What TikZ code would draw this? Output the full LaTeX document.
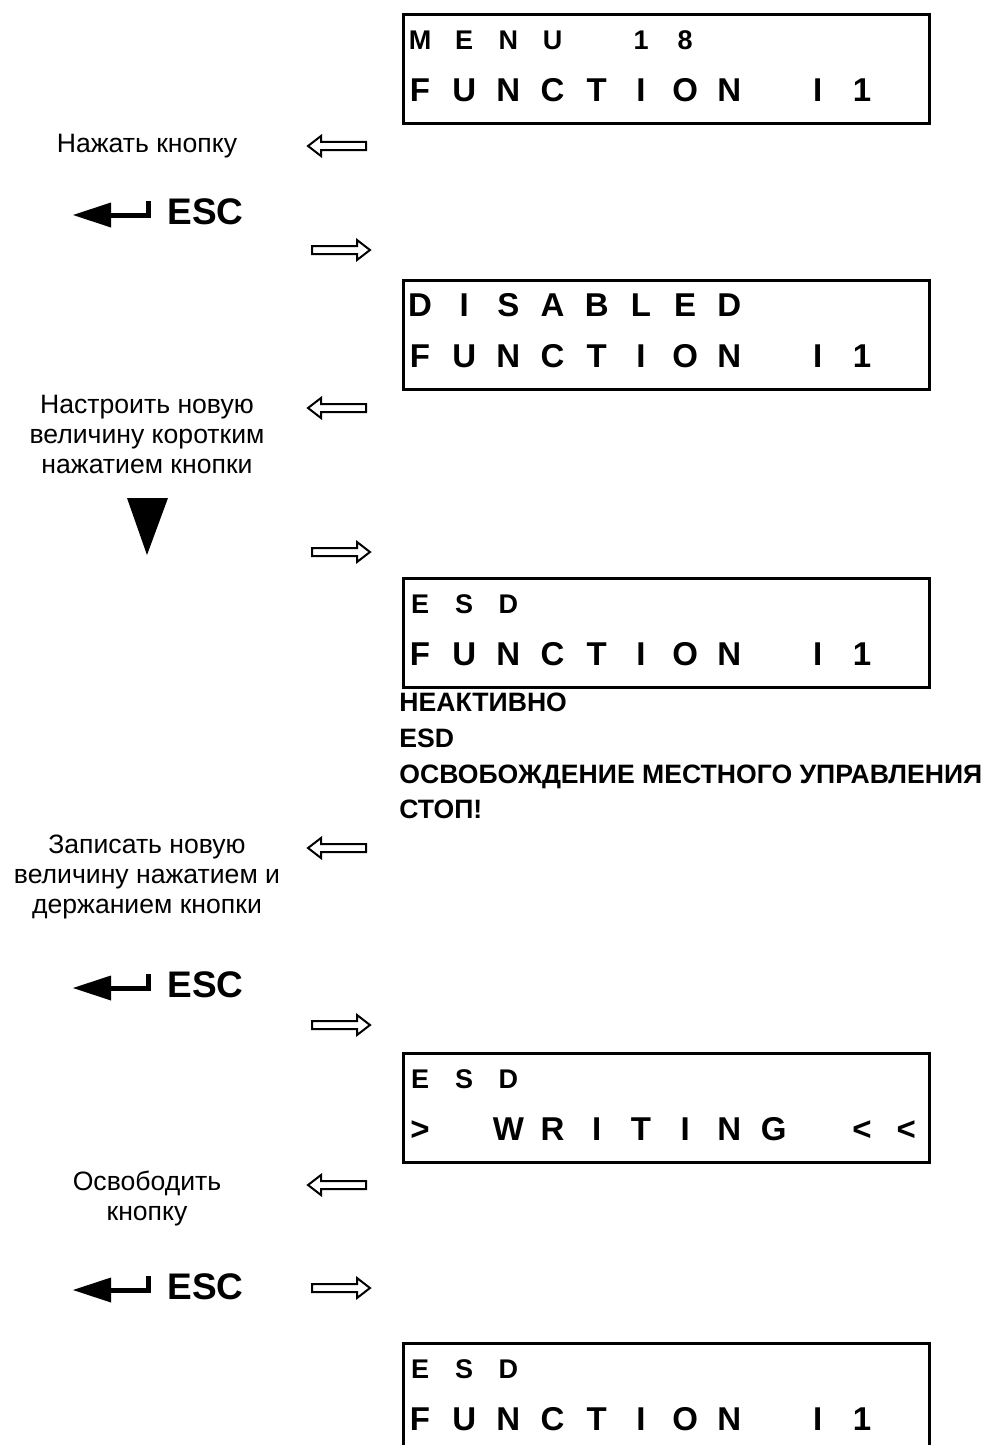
\documentclass[tikz,border=0pt]{standalone}
\usepackage{fontspec}
\setmainfont{Liberation Sans}
\usepackage{tikz}
\usetikzlibrary{
  arrows.meta,
  positioning
}

\tikzset{
  lcdbox/.style={rectangle,draw=black,line width=1.5pt,anchor=north west,
    minimum width=263pt,minimum height=54.5pt,inner sep=0pt},
  bigchar/.style={font=\bfseries\fontsize{16.5}{20}\selectfont,inner sep=0pt,anchor=base},
  smallchar/.style={font=\bfseries\fontsize{13.5}{15}\selectfont,inner sep=0pt,anchor=base},
  steptext/.style={font=\fontsize{13.3}{15}\selectfont,align=center,inner sep=0pt,anchor=base},
  notetext/.style={font=\bfseries\fontsize{13.3}{15}\selectfont,inner sep=0pt,anchor=base west},
  esctext/.style={font=\bfseries\fontsize{18.5}{22}\selectfont,inner sep=0pt,anchor=west},
  hollowleft/.pic={
    \draw[line width=1pt,line join=miter] (0,0) -- (13,-10) -- (13,-4) -- (58,-4)
      -- (58,4) -- (13,4) -- (13,10) -- cycle;},
  hollowright/.pic={
    \draw[line width=1pt,line join=miter] (0,-4) -- (45,-4) -- (45,-10) -- (58,0)
      -- (45,10) -- (45,4) -- (0,4) -- cycle;},
  enterkey/.pic={
    \fill (-94,3) -- (-56,-9.5) -- (-56,15.5) -- cycle;
    \draw[line width=2.5pt,line join=miter] (-57,3) -- (-18.5,3) -- (-18.5,-11);}
}

% one row of the display, one character per cell
\newcommand\lcdrow[4]{%
  \foreach \ch [count=\i from 0] in {#4}
    \node[#3] (#1-\i) at ({420+44.2*\i},#2) {\ch};}

\begin{document}
\begin{tikzpicture}[x=0.5pt,y=-0.5pt]
  \clip (0,0) rectangle (991,1445);

  % menu 18
  \node[lcdbox] (menu) at (401.5,13.5) {};
  \lcdrow{menuA}{50}{smallchar}{M,E,N,U,{},1,8}
  \lcdrow{menuB}{102}{bigchar}{F,U,N,C,T,I,O,N,{},I,1}
  \node[steptext] (press) at (147,152) {Нажать кнопку};
  \pic at (308,146) {hollowleft};
  \node[esctext] (esc1) at (167,212) {ESC};
  \pic at (esc1.west) {enterkey};
  \pic at (312,250) {hollowright};

  % disabled
  \node[lcdbox] (disabled) at (401.5,278.5) {};
  \lcdrow{disA}{316}{bigchar}{D,I,S,A,B,L,E,D}
  \lcdrow{disB}{367}{bigchar}{F,U,N,C,T,I,O,N,{},I,1}
  \node[steptext] (adjust) at (147,473) {Настроить новую\\величину коротким\\нажатием кнопки};
  \pic at (308,408) {hollowleft};
  \fill (127,498) -- (168,498) -- (147,555) -- cycle;
  \pic at (312,552) {hollowright};

  % esd
  \node[lcdbox] (esd) at (401.5,576.5) {};
  \lcdrow{esdA}{613}{smallchar}{E,S,D}
  \lcdrow{esdB}{665}{bigchar}{F,U,N,C,T,I,O,N,{},I,1}
  \node[notetext] (opt1) at (399,711) {НЕАКТИВНО};
  \node[notetext] (opt2) at (399,747) {ESD};
  \node[notetext] (opt3) at (399,783) {ОСВОБОЖДЕНИЕ МЕСТНОГО УПРАВЛЕНИЯ};
  \node[notetext] (opt4) at (399,818) {СТОП!};
  \node[steptext] (store) at (147,913) {Записать новую\\величину нажатием и\\держанием кнопки};
  \pic at (308,848) {hollowleft};
  \node[esctext] (esc2) at (167,985) {ESC};
  \pic at (esc2.west) {enterkey};
  \pic at (312,1025) {hollowright};

  % writing
  \node[lcdbox] (writing) at (401.5,1051.5) {};
  \lcdrow{wrA}{1088}{smallchar}{E,S,D}
  \lcdrow{wrB}{1140}{bigchar}{>,{},W,R,I,T,I,N,G,{},<,<}
  \node[steptext] (release) at (147,1220) {Освободить\\кнопку};
  \pic at (308,1185) {hollowleft};
  \node[esctext] (esc3) at (167,1287) {ESC};
  \pic at (esc3.west) {enterkey};
  \pic at (312,1288) {hollowright};

  % esd, stored
  \node[lcdbox] (final) at (401.5,1341.5) {};
  \lcdrow{finA}{1378}{smallchar}{E,S,D}
  \lcdrow{finB}{1430}{bigchar}{F,U,N,C,T,I,O,N,{},I,1}
\end{tikzpicture}
\end{document}
